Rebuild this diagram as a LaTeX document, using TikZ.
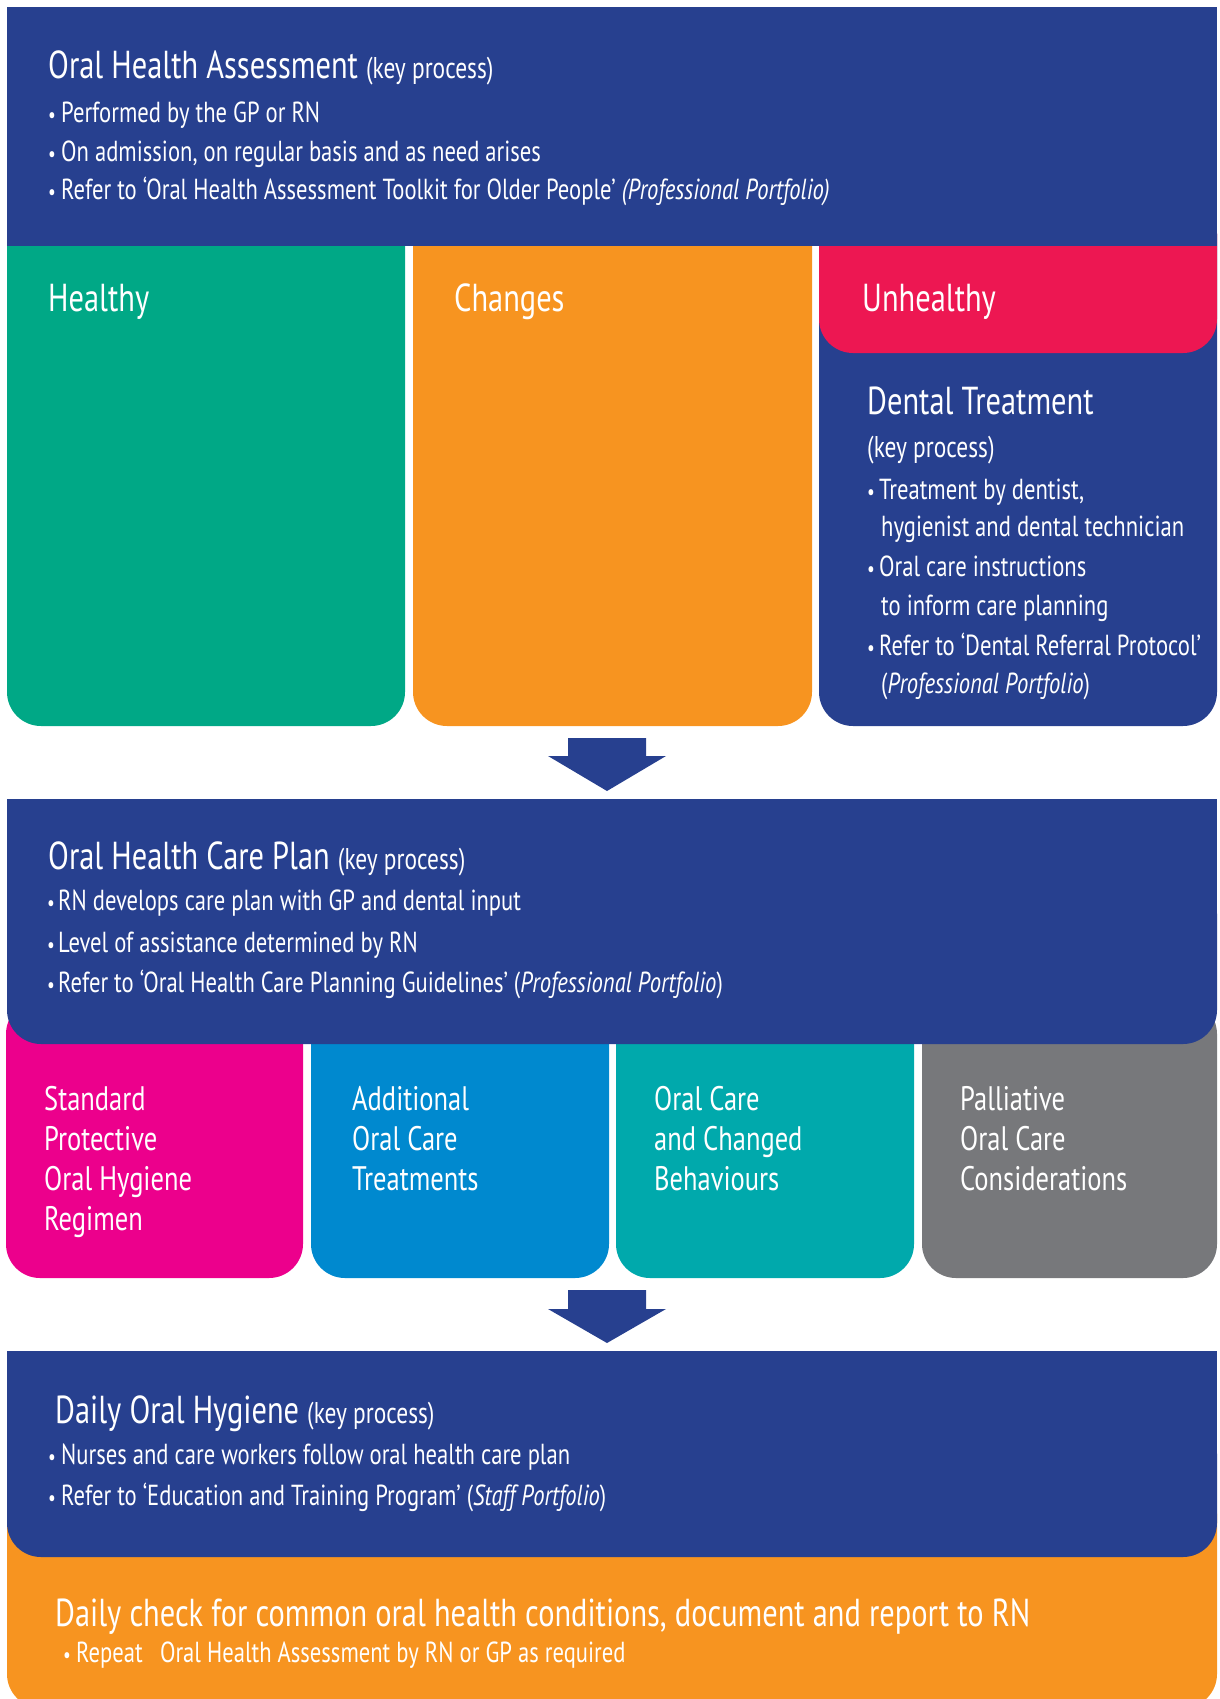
\documentclass[tikz,border=0pt]{standalone}
\usepackage{fontspec}
\setmainfont{PT Sans}[FakeStretch=0.78]
\definecolor{dblue}{RGB}{39,64,143}
\definecolor{cgreen}{RGB}{0,168,134}
\definecolor{corange}{RGB}{247,148,32}
\definecolor{cred}{RGB}{237,23,82}
\definecolor{cpink}{RGB}{236,0,140}
\definecolor{cblue}{RGB}{0,137,207}
\definecolor{cteal}{RGB}{0,169,172}
\definecolor{cgrey}{RGB}{119,120,123}
\newcommand{\bl}{\makebox[13pt][l]{\fontsize{22}{22}\selectfont\textbullet}}
\newcommand{\kp}{{\fontsize{30}{34}\selectfont (key process)}}
\tikzset{
  txt/.style={anchor=base west, inner sep=0pt, text=white, font=\fontsize{29}{34}\selectfont},
  ttl/.style={txt, font=\fontsize{39}{46}\selectfont},
  lbl/.style={txt, font=\fontsize{34}{40}\selectfont},
  panel/.style={rounded corners=34},
  blockarrow/.style={fill=dblue},
}
\begin{document}
\begin{tikzpicture}[x=1pt,y=-1pt]
\useasboundingbox (0,0) rectangle (1219,1699);
% ---------- columns ----------
\fill[cgreen,panel] (7,200) rectangle (405,726);
\fill[corange,panel] (413,200) rectangle (812,726);
\fill[dblue,panel] (819,200) rectangle (1217,726);
\fill[cred,panel] (819,200) rectangle (1217,353);
% ---------- top box ----------
\fill[dblue] (7,7) rectangle (1217,246);
\node[ttl] (oha) at (48,79) {Oral Health Assessment \kp};
\node[txt] (oha1) at (48,123) {\bl Performed by the GP or RN};
\node[txt] (oha2) at (48,162) {\bl On admission, on regular basis and as need arises};
\node[txt] (oha3) at (48,200) {\bl Refer to ‘Oral Health Assessment Toolkit for Older People’ \textit{(Professional Portfolio)}};
\node[ttl] (healthy) at (48,311) {Healthy};
\node[ttl] (changes) at (454,311) {Changes};
\node[ttl] (unhealthy) at (862,311) {Unhealthy};
\node[ttl] (dt) at (867,414) {Dental Treatment};
\node[txt, font=\fontsize{30}{34}\selectfont] (dtk) at (867,457) {(key process)};
\node[txt] (dt1) at (867,499) {\makebox[12pt][l]{\fontsize{22}{22}\selectfont\textbullet}Treatment by dentist,};
\node[txt] (dt1b) at (881,536) {hygienist and dental technician};
\node[txt] (dt2) at (867,576) {\makebox[12pt][l]{\fontsize{22}{22}\selectfont\textbullet}Oral care instructions};
\node[txt] (dt2b) at (881,615) {to inform care planning};
\node[txt] (dt3) at (867,655) {\makebox[12pt][l]{\fontsize{22}{22}\selectfont\textbullet}Refer to ‘Dental Referral Protocol’};
\node[txt] (dt3b) at (881,693) {(\textit{Professional Portfolio})};
% ---------- arrow 1 ----------
\fill[blockarrow] (568,738) -- (646,738) -- (646,756) -- (666,756) -- (607,791) -- (548,756) -- (568,756) -- cycle;
% ---------- four boxes ----------
\fill[cpink,panel] (6,1000) rectangle (303,1278);
\fill[cblue,panel] (311,1000) rectangle (609,1278);
\fill[cteal,panel] (616,1000) rectangle (914,1278);
\fill[cgrey,panel] (922,1000) rectangle (1217,1278);
% ---------- plan box ----------
\fill[dblue,panel] (7,880) rectangle (1217,1044);
\fill[dblue] (7,799) rectangle (1217,920);
\node[ttl] (ohcp) at (48,869) {Oral Health Care Plan \kp};
\node[txt] (ohcp1) at (47,910) {\makebox[11pt][l]{\fontsize{22}{22}\selectfont\textbullet}RN develops care plan with GP and dental input};
\node[txt] (ohcp2) at (47,952) {\makebox[11pt][l]{\fontsize{22}{22}\selectfont\textbullet}Level of assistance determined by RN};
\node[txt] (ohcp3) at (47,992) {\makebox[11pt][l]{\fontsize{22}{22}\selectfont\textbullet}Refer to ‘Oral Health Care Planning Guidelines’ (\textit{Professional Portfolio})};
\node[lbl] (spohr) at (44,1110) {Standard};
\node[lbl] (spohr2) at (44,1150) {Protective};
\node[lbl] (spohr3) at (44,1190) {Oral Hygiene};
\node[lbl] (spohr4) at (44,1230) {Regimen};
\node[lbl] (aoct) at (352,1110) {Additional};
\node[lbl] (aoct2) at (352,1150) {Oral Care};
\node[lbl] (aoct3) at (352,1190) {Treatments};
\node[lbl] (occb) at (654,1110) {Oral Care};
\node[lbl] (occb2) at (654,1150) {and Changed};
\node[lbl] (occb3) at (654,1190) {Behaviours};
\node[lbl] (pocc) at (960,1110) {Palliative};
\node[lbl] (pocc2) at (960,1150) {Oral Care};
\node[lbl] (pocc3) at (960,1190) {Considerations};
% ---------- arrow 2 ----------
\fill[blockarrow] (568,1290) -- (646,1290) -- (646,1309) -- (666,1309) -- (607,1343) -- (548,1309) -- (568,1309) -- cycle;
% ---------- daily boxes ----------
\fill[corange,panel] (7,1480) rectangle (1217,1708);
\fill[dblue,panel] (7,1420) rectangle (1217,1557);
\fill[dblue] (7,1351) rectangle (1217,1460);
\node[ttl] (doh) at (55,1423) {Daily Oral Hygiene \kp};
\node[txt] (doh1) at (48,1464) {\bl Nurses and care workers follow oral health care plan};
\node[txt] (doh2) at (48,1505) {\bl Refer to ‘Education and Training Program’ (\textit{Staff Portfolio})};
\node[ttl] (dc) at (55,1626) {Daily check for common oral health conditions, document and report to RN};
\node[txt] (dc1) at (63,1662) {\bl Repeat\hspace{0.6em}Oral Health Assessment by RN or GP as required};
\end{tikzpicture}
\end{document}
